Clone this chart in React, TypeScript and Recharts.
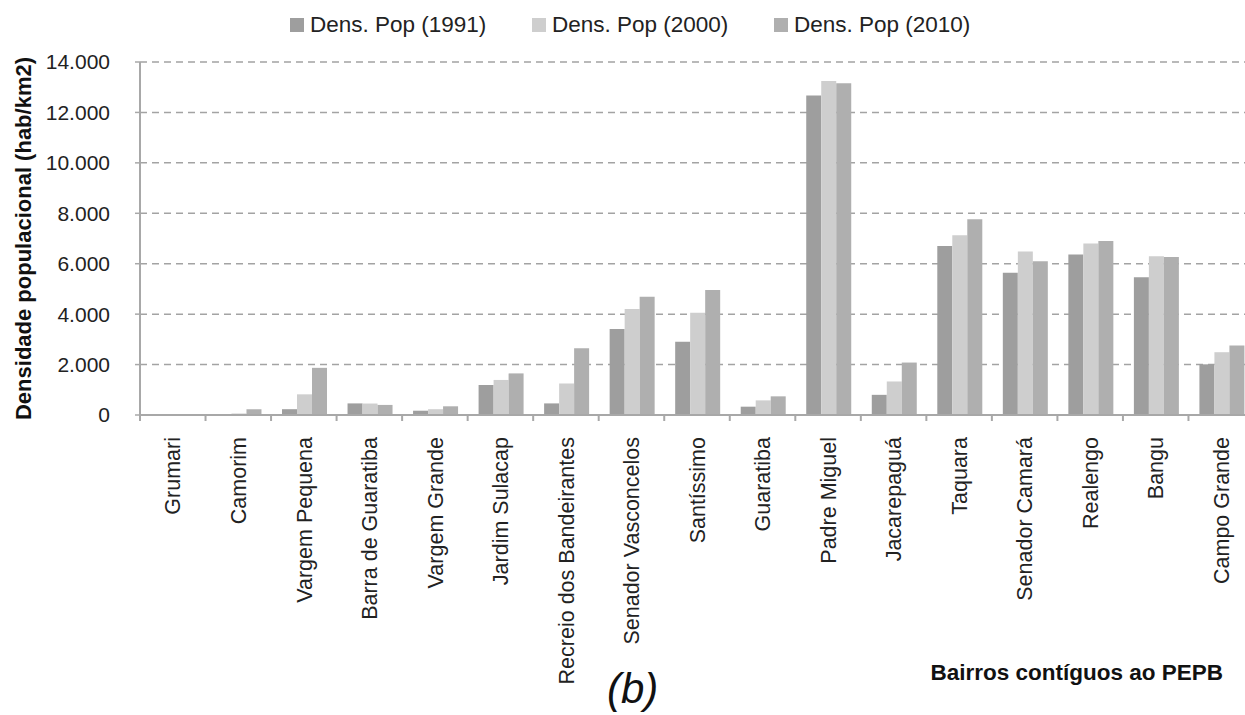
import { BarChart, Bar, XAxis, YAxis, CartesianGrid, Label } from 'recharts';

const bairros = [
  'Grumari',
  'Camorim',
  'Vargem Pequena',
  'Barra de Guaratiba',
  'Vargem Grande',
  'Jardim Sulacap',
  'Recreio dos Bandeirantes',
  'Senador Vasconcelos',
  'Santíssimo',
  'Guaratiba',
  'Padre Miguel',
  'Jacarepaguá',
  'Taquara',
  'Senador Camará',
  'Realengo',
  'Bangu',
  'Campo Grande',
];

const dens1991 = [0, 10, 230, 460, 170, 1190, 460, 3410, 2910, 330, 12670, 800, 6700, 5640, 6370, 5460, 2010];
const dens2000 = [0, 60, 820, 455, 230, 1390, 1250, 4200, 4060, 580, 13250, 1330, 7130, 6480, 6800, 6300, 2490];
const dens2010 = [0, 230, 1870, 400, 345, 1650, 2650, 4690, 4960, 740, 13160, 2080, 7760, 6100, 6900, 6270, 2760];

const yTicks = [0, 2000, 4000, 6000, 8000, 10000, 12000, 14000];

const seriesNames = ['Dens. Pop (1991)', 'Dens. Pop (2000)', 'Dens. Pop (2010)'];
const seriesColors = ['#9e9e9e', '#cecece', '#afafaf'];

const data = bairros.map((b, i) => ({
  bairro: b,
  d1991: dens1991[i],
  d2000: dens2000[i],
  d2010: dens2010[i],
}));

const FONT = "'Liberation Sans', Arial, sans-serif";
const CHART_W = 1254;
const CHART_H = 715;
const PLOT_LEFT = 140;
const BAND = (CHART_W - PLOT_LEFT) / bairros.length;

const fmt = (v: number) => (v === 0 ? '0' : v.toLocaleString('de-DE'));

const XTick = (props: any) => {
  const { x, y, payload } = props;
  const left = x - BAND / 2;
  return (
    <g>
      <line x1={left} y1={y - 6} x2={left} y2={y} stroke="#a8a8a8" strokeWidth={2} />
      <text
        x={x}
        y={y + 16}
        transform={`rotate(-90, ${x}, ${y + 16})`}
        textAnchor="end"
        dy="0.36em"
        fontFamily={FONT}
        fontSize={21.5}
        fill="#222"
      >
        {payload.value}
      </text>
    </g>
  );
};

const YTitle = (props: any) => {
  const { viewBox } = props;
  const cy = viewBox.y + viewBox.height / 2;
  const cx = 23;
  return (
    <text
      x={cx}
      y={cy}
      transform={`rotate(-90, ${cx}, ${cy})`}
      textAnchor="middle"
      dy="0.36em"
      fontFamily={FONT}
      fontSize={22}
      fontWeight="bold"
      fill="#111"
    >
      Densidade populacional (hab/km2)
    </text>
  );
};

const XTitle = () => (
  <text x={1223} y={672} textAnchor="end" dy="0.36em" fontFamily={FONT} fontSize={22.5} fontWeight="bold" fill="#111">
    Bairros contíguos ao PEPB
  </text>
);

export default function App() {
  return (
    <div
      style={{
        position: 'absolute',
        left: 0,
        top: 0,
        width: 1245,
        height: 715,
        overflow: 'hidden',
        background: '#fff',
        fontFamily: FONT,
      }}
    >
      <BarChart
        width={CHART_W}
        height={CHART_H}
        data={data}
        margin={{ top: 62, right: 0, left: 0, bottom: 0 }}
        barCategoryGap="16.7%"
        barGap={0}
      >
        <CartesianGrid vertical={false} stroke="#a3a3a3" strokeWidth={1.5} strokeDasharray="7 5" />
        <XAxis
          dataKey="bairro"
          interval={0}
          height={300}
          tickLine={false}
          tickSize={6}
          tickMargin={0}
          axisLine={{ stroke: '#a8a8a8', strokeWidth: 2 }}
          tick={<XTick />}
        >
          <Label content={<XTitle />} />
        </XAxis>
        <YAxis
          width={PLOT_LEFT}
          domain={[0, 14000]}
          ticks={yTicks}
          tickFormatter={fmt}
          tickSize={5}
          tickMargin={25}
          axisLine={{ stroke: '#a8a8a8', strokeWidth: 2 }}
          tickLine={{ stroke: '#a8a8a8', strokeWidth: 1.5 }}
          tick={{ fontFamily: FONT, fontSize: 21, fill: '#222' }}
        >
          <Label content={<YTitle />} />
        </YAxis>
        <Bar dataKey="d1991" name={seriesNames[0]} fill={seriesColors[0]} isAnimationActive={false} />
        <Bar dataKey="d2000" name={seriesNames[1]} fill={seriesColors[1]} isAnimationActive={false} />
        <Bar dataKey="d2010" name={seriesNames[2]} fill={seriesColors[2]} isAnimationActive={false} />
      </BarChart>

      {seriesNames.map((name, i) => (
        <div
          key={name}
          style={{
            position: 'absolute',
            left: 290 + i * 242,
            top: 12,
            height: 26,
            display: 'flex',
            alignItems: 'center',
            fontSize: 22.5,
            color: '#222',
            whiteSpace: 'nowrap',
          }}
        >
          <span style={{ width: 14, height: 14, background: seriesColors[i], marginRight: 6, display: 'inline-block' }} />
          {name}
        </div>
      ))}

      <div
        style={{
          position: 'absolute',
          left: 607,
          top: 665,
          fontSize: 42,
          fontStyle: 'italic',
          color: '#111',
          lineHeight: '48px',
        }}
      >
        (b)
      </div>
    </div>
  );
}
